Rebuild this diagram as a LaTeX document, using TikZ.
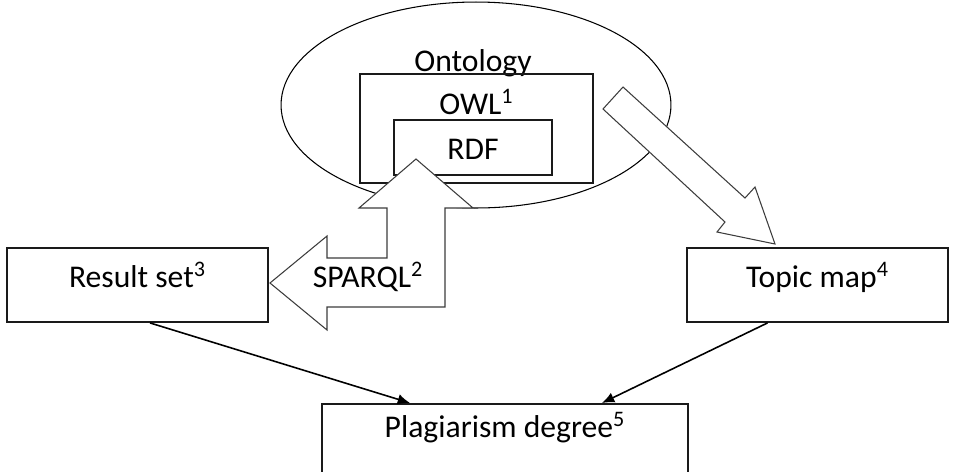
\documentclass[tikz,border=0pt]{standalone}
\usepackage{fontspec}
\setmainfont{Carlito}
\usepackage{xcolor}
\usetikzlibrary{shapes.geometric, arrows.meta, positioning, calc}
\definecolor{outline}{HTML}{1A1A1A}
\definecolor{blockgray}{HTML}{3C3C3C}

\begin{document}
\begin{tikzpicture}[x=0.02cm, y=-0.02cm, font=\fontsize{18}{21}\selectfont,
    box/.style={draw=outline, line width=1.1pt, anchor=north, inner xsep=0pt, inner ysep=1mm},
    blockarrow/.style={draw=blockgray, line width=0.6pt, fill=white, line join=miter},
    link/.style={-{Latex[length=7pt, width=6pt]}, line width=0.9pt}]
    \useasboundingbox (0,0) rectangle (961,471);
    \clip (0,0) rectangle (961,471);

    % Ontology with OWL and RDF
    \node[ellipse, draw, line width=0.6pt, minimum width=7.8cm, minimum height=4.12cm] (onto) at (476,105) {};
    \node[anchor=base] (ontolabel) at (473,71) {Ontology};
    \node[box, minimum width=4.66cm, text height=0.72cm, text depth=1.26cm] (owl) at (476.5,73) {OWL\textsuperscript{1}};
    \node[box, minimum width=3.16cm, text height=0.7cm, text depth=0.2cm] (rdf) at (473,119) {RDF};

    % SPARQL arrow
    \draw[blockarrow] (416,159) -- (473,208) -- (445,208) -- (445,307) -- (327,307) -- (327,330) -- (270,283)
        -- (327,236) -- (327,258) -- (387,258) -- (387,208) -- (359,208) -- cycle;
    \node (sparql) at (368,277) {SPARQL\textsuperscript{2}};

    % Topic map arrow
    \draw[blockarrow] (603,109) -- (623,87) -- (745,198) -- (755,187) -- (775,244) -- (717,232) -- (725,222) -- cycle;

    % Result set, topic map, plagiarism degree
    \node[box, minimum width=5.22cm, text height=0.7cm, text depth=0.58cm] (result) at (137.5,247) {Result set\textsuperscript{3}};
    \node[box, minimum width=5.22cm, text height=0.7cm, text depth=0.58cm] (topic) at (817.5,247) {Topic map\textsuperscript{4}};
    \node[box, minimum width=7.32cm, text height=0.58cm, text depth=1.1cm] (plag) at (505,403) {Plagiarism degree\textsuperscript{5}};

    \draw[link] ([xshift=0.25cm]result.south) -- ([xshift=-1.9cm]plag.north);
    \draw[link] ([xshift=-1cm]topic.south) -- ([xshift=1.94cm]plag.north);
\end{tikzpicture}
\end{document}
